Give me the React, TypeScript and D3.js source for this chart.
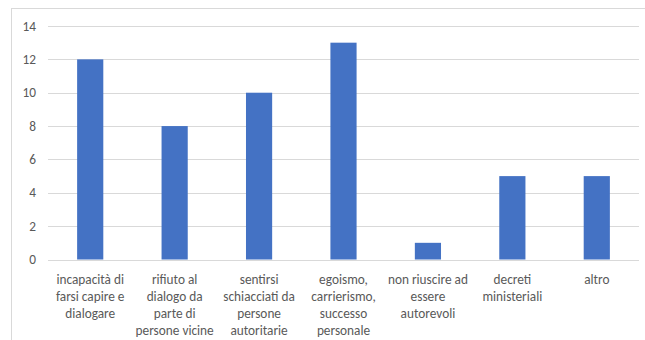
import React from "react";
import * as d3 from "d3";

const categories: string[][] = [
  ["incapacità di", "farsi capire e", "dialogare"],
  ["rifiuto al", "dialogo da", "parte di", "persone vicine"],
  ["sentirsi", "schiacciati da", "persone", "autoritarie"],
  ["egoismo,", "carrierismo,", "successo", "personale"],
  ["non riuscire ad", "essere", "autorevoli"],
  ["decreti", "ministeriali"],
  ["altro"],
];
const values: number[] = [12, 8, 10, 13, 1, 5, 5];
const yTicks: number[] = [0, 2, 4, 6, 8, 10, 12, 14];

export default function App() {
  const W = 645, H = 340;
  const left = 48, right = 639, top = 26, bottom = 259.5;
  const ids = categories.map((_, i) => String(i));
  const x = d3.scaleBand<string>().domain(ids).range([left, right]).paddingInner(0.69).paddingOuter(0.345);
  const y = d3.scaleLinear().domain([0, 14]).range([bottom, top]);
  const font = "Carlito, 'Open Sans', 'Noto Sans', sans-serif";
  return (
    <svg width={W} height={H} style={{ position: "absolute", left: 0, top: 0, background: "#fff" }}>
      <rect x={11.5} y={8.5} width={W + 10} height={H + 10} fill="#fff" stroke="#d9d9d9" strokeWidth={1} />
      {yTicks.map((t) => (
        <g key={t}>
          <line x1={left} x2={right} y1={Math.round(y(t)) + 0.5} y2={Math.round(y(t)) + 0.5} stroke="#d9d9d9" strokeWidth={1} />
          <text x={36} y={y(t)} dy="0.35em" textAnchor="end" fontSize={13.3} fill="#595959" fontFamily={font}>{t}</text>
        </g>
      ))}
      {values.map((v, i) => (
        <rect key={i} x={x(String(i))!} y={y(v)} width={x.bandwidth()} height={y(0) - y(v)} fill="#4472C4" />
      ))}
      {categories.map((lines, i) => (
        <text key={i} textAnchor="middle" fontSize={13.3} fill="#595959" fontFamily={font}>
          {lines.map((l, j) => (
            <tspan key={j} x={x(String(i))! + x.bandwidth() / 2} y={283.5 + j * 17}>{l}</tspan>
          ))}
        </text>
      ))}
    </svg>
  );
}
